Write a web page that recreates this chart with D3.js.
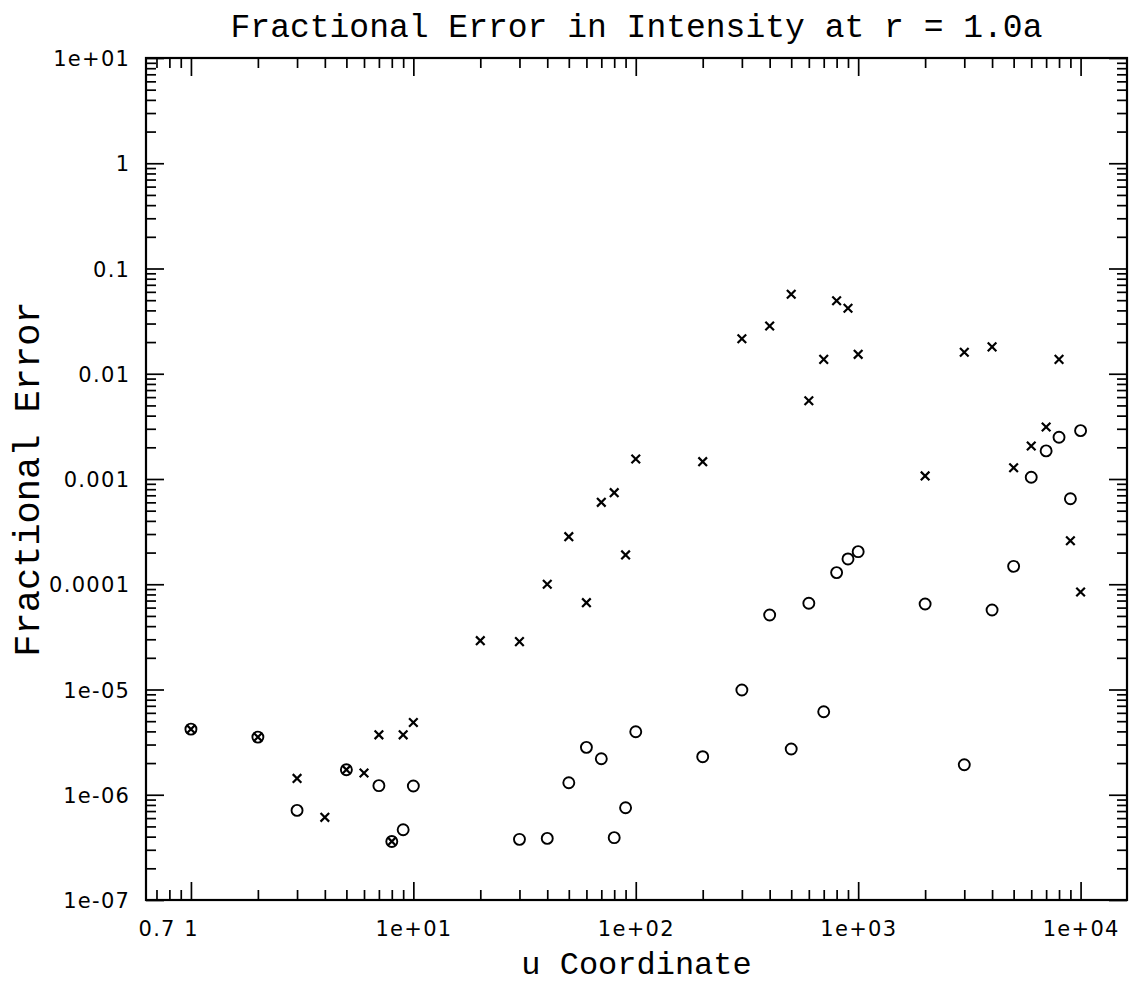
<!DOCTYPE html>
<html>
<head>
<meta charset="utf-8">
<script src="https://cdn.jsdelivr.net/npm/d3@7"></script>
<style>
  body { margin: 0; background: #fff; }
  svg { display: block; }
  .tick line { stroke: #000; }
</style>
</head>
<body>
<div id="chart"></div>
<script>
// u coordinate of every sample
const uValues = [
  1, 2, 3, 4, 5, 6, 7, 8, 9,
  10, 20, 30, 40, 50, 60, 70, 80, 90,
  100, 200, 300, 400, 500, 600, 700, 800, 900,
  1000, 2000, 3000, 4000, 5000, 6000, 7000, 8000, 9000,
  10000
];

// fractional error, "x" markers
const crossErrors = [
  4.2e-6, 3.53e-6, 1.43e-6, 6.1e-7, 1.73e-6, 1.61e-6, 3.71e-6, 3.6e-7, 3.71e-6,
  4.86e-6, 2.91e-5, 2.85e-5, 1.0e-4, 2.83e-4, 6.68e-5, 6.0e-4, 7.41e-4, 1.9e-4,
  1.55e-3, 1.46e-3, 0.0215, 0.0284, 0.0569, 0.00554, 0.0137, 0.0494, 0.0419,
  0.0153, 0.00107, 0.016, 0.018, 0.00128, 0.00206, 0.00312, 0.0137, 2.59e-4,
  8.44e-5
];

// fractional error, "o" markers (null = not drawn)
const circleErrors = [
  4.2e-6, 3.53e-6, 7.1e-7, null, 1.73e-6, null, 1.22e-6, 3.6e-7, 4.65e-7,
  1.21e-6, null, 3.77e-7, 3.85e-7, 1.30e-6, 2.82e-6, 2.20e-6, 3.91e-7, 7.53e-7,
  3.97e-6, 2.30e-6, 9.9e-6, 5.1e-5, 2.72e-6, 6.59e-5, 6.15e-6, 1.29e-4, 1.74e-4,
  2.04e-4, 6.49e-5, 1.93e-6, 5.69e-5, 1.48e-4, 1.04e-3, 1.85e-3, 2.49e-3, 6.5e-4,
  2.88e-3
];

const xLabelValues = [0.7, 1, 10, 100, 1000, 10000];
const xLabelText = ["0.7", "1", "1e+01", "1e+02", "1e+03", "1e+04"];
const yLabelValues = [1e-7, 1e-6, 1e-5, 1e-4, 1e-3, 1e-2, 1e-1, 1, 10];
const yLabelText = ["1e-07", "1e-06", "1e-05", "0.0001", "0.001", "0.01", "0.1", "1", "1e+01"];

const width = 1135;
const height = 994;
const plotLeft = 146;
const plotRight = 1127;
const plotTop = 58;
const plotBottom = 900;
const majorTick = 18;
const minorTick = 10;
const titleFont = "'Liberation Mono', 'DejaVu Sans Mono', monospace";
const tickFont = "'DejaVu Sans', sans-serif";
const labelSpacing = 1.3;

const x = d3.scaleLog().domain([0.628, 16170]).range([plotLeft, plotRight]);
const y = d3.scaleLog().domain([1e-7, 10]).range([plotBottom, plotTop]);

const isDecade = (v) => Math.abs(Math.log10(v) - Math.round(Math.log10(v))) < 1e-9;

const svg = d3
  .select("#chart")
  .append("svg")
  .attr("width", width)
  .attr("height", height);

// ticks, inward on all four sides
const xTicks = x.ticks();
const yTicks = y.ticks();
const tickAxes = [
  { axis: d3.axisBottom, scale: x, ticks: xTicks, at: `translate(0,${plotBottom})` },
  { axis: d3.axisTop, scale: x, ticks: xTicks, at: `translate(0,${plotTop})` },
  { axis: d3.axisLeft, scale: y, ticks: yTicks, at: `translate(${plotLeft},0)` },
  { axis: d3.axisRight, scale: y, ticks: yTicks, at: `translate(${plotRight},0)` },
];

tickAxes.forEach((a) => {
  [true, false].forEach((major) => {
    const g = svg
      .append("g")
      .attr("transform", a.at)
      .call(
        a.axis(a.scale)
          .tickValues(a.ticks.filter((v) => isDecade(v) === major))
          .tickSize(-(major ? majorTick : minorTick))
          .tickSizeOuter(0)
          .tickFormat("")
      );
    g.select(".domain").remove();
    g.selectAll(".tick line").attr("stroke-width", 1.7);
  });
});

// frame
svg
  .append("rect")
  .attr("x", plotLeft)
  .attr("y", plotTop)
  .attr("width", plotRight - plotLeft)
  .attr("height", plotBottom - plotTop)
  .attr("fill", "none")
  .attr("stroke", "#000")
  .attr("stroke-width", 2.2);

// tick labels
svg
  .append("g")
  .selectAll("text")
  .data(xLabelValues)
  .join("text")
  .attr("x", (d) => x(d) + labelSpacing / 2)
  .attr("y", 936)
  .attr("text-anchor", "middle")
  .attr("font-family", tickFont)
  .attr("font-size", 21)
  .attr("letter-spacing", labelSpacing)
  .text((d, i) => xLabelText[i]);

svg
  .append("g")
  .selectAll("text")
  .data(yLabelValues)
  .join("text")
  .attr("x", 129 + labelSpacing)
  .attr("y", (d) => y(d) + 8)
  .attr("text-anchor", "end")
  .attr("font-family", tickFont)
  .attr("font-size", 21)
  .attr("letter-spacing", labelSpacing)
  .text((d, i) => yLabelText[i]);

// title and axis names
svg
  .append("text")
  .attr("x", (plotLeft + plotRight) / 2)
  .attr("y", 37)
  .attr("text-anchor", "middle")
  .attr("font-family", titleFont)
  .attr("font-size", 33)
  .text("Fractional Error in Intensity at r = 1.0a");

svg
  .append("text")
  .attr("x", (plotLeft + plotRight) / 2)
  .attr("y", 974)
  .attr("text-anchor", "middle")
  .attr("font-family", titleFont)
  .attr("font-size", 32)
  .text("u Coordinate");

svg
  .append("text")
  .attr("transform", `translate(39,${(plotTop + plotBottom) / 2}) rotate(-90)`)
  .attr("text-anchor", "middle")
  .attr("font-family", titleFont)
  .attr("font-size", 37)
  .text("Fractional Error");

// markers
const crossPoints = uValues.map((u, i) => ({ u, e: crossErrors[i] })).filter((d) => d.e != null);
const circlePoints = uValues.map((u, i) => ({ u, e: circleErrors[i] })).filter((d) => d.e != null);

svg
  .append("g")
  .selectAll("circle")
  .data(circlePoints)
  .join("circle")
  .attr("cx", (d) => x(d.u))
  .attr("cy", (d) => y(d.e))
  .attr("r", 5.5)
  .attr("fill", "none")
  .attr("stroke", "#000")
  .attr("stroke-width", 1.9);

const c = 4.3;
svg
  .append("g")
  .selectAll("path")
  .data(crossPoints)
  .join("path")
  .attr("transform", (d) => `translate(${x(d.u)},${y(d.e)})`)
  .attr("d", `M${-c},${-c}L${c},${c}M${-c},${c}L${c},${-c}`)
  .attr("stroke", "#000")
  .attr("stroke-width", 2.2);
</script>
</body>
</html>
